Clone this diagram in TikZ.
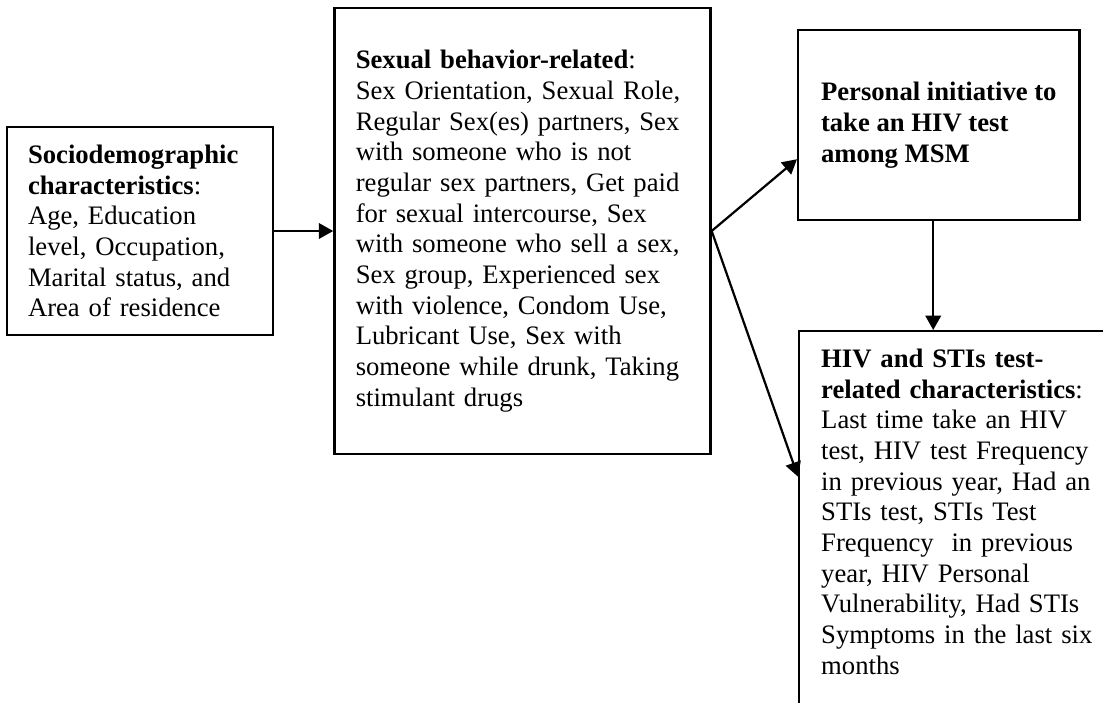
\documentclass[tikz,border=0pt]{standalone}
\usepackage{fontspec}
\setmainfont{Liberation Serif}
\usepackage{tikz}
\usetikzlibrary{arrows.meta,positioning}
\tikzstyle{boxstyle}=[draw,line width=1.1pt,inner xsep=9.5pt,align=left,font=\fontsize{12}{13.8}\selectfont]
\tikzstyle{linkstyle}=[line width=1pt,-{Triangle[length=6.5pt,width=7pt]}]

\begin{document}
\begin{tikzpicture}[x=0.45pt,y=-0.45pt]
	\useasboundingbox (0,0) rectangle (1103,702);
	\clip (0,0) rectangle (1103,702);

	\node[boxstyle,text width=100.8pt,minimum width=119.7pt,minimum height=93.6pt] (socio) at (140,231)
		{\textbf{Sociodemographic}\\ \textbf{characteristics}:\\ Age, Education\\ level, Occupation,\\ Marital status, and\\ Area of residence};
	\node[boxstyle,text width=150pt,minimum width=169.2pt,minimum height=200.7pt] (sexual) [right=26.5pt of socio]
		{\textbf{Sexual behavior-related}:\\ Sex Orientation, Sexual Role,\\ Regular Sex(es) partners, Sex\\ with someone who is not\\ regular sex partners, Get paid\\ for sexual intercourse, Sex\\ with someone who sell a sex,\\ Sex group, Experienced sex\\ with violence, Condom Use,\\ Lubricant Use, Sex with\\ someone while drunk, Taking\\ stimulant drugs};
	\node[boxstyle,minimum width=126.5pt,minimum height=85.5pt,anchor=north west] (initiative) at (797,29)
		{\textbf{Personal initiative to}\\ \textbf{take an HIV test}\\ \textbf{among MSM}};
	\node[boxstyle,inner xsep=9.9pt,inner ysep=8pt,text width=130pt,text depth=165pt,anchor=north west] (hivtest) at (798,330)
		{\textbf{HIV and STIs test-}\\ \textbf{related characteristics}:\\ Last time take an HIV\\ test, HIV test Frequency\\ in previous year, Had an\\ STIs test, STIs Test\\ Frequency\ \ in previous\\ year, HIV Personal\\ Vulnerability, Had STIs\\ Symptoms in the last six\\ months};

	\draw[linkstyle] (socio) -- (sexual);
	\draw[linkstyle] (sexual.east) -- ([yshift=-15.3pt]initiative.west);
	\draw[linkstyle] (sexual.east) -- ([yshift=-66pt]hivtest.north west);
	\draw[linkstyle] ([xshift=-2.5pt]initiative.south) -- ([xshift=-2.5pt]initiative.south |- hivtest.north);

\end{tikzpicture}
\end{document}
